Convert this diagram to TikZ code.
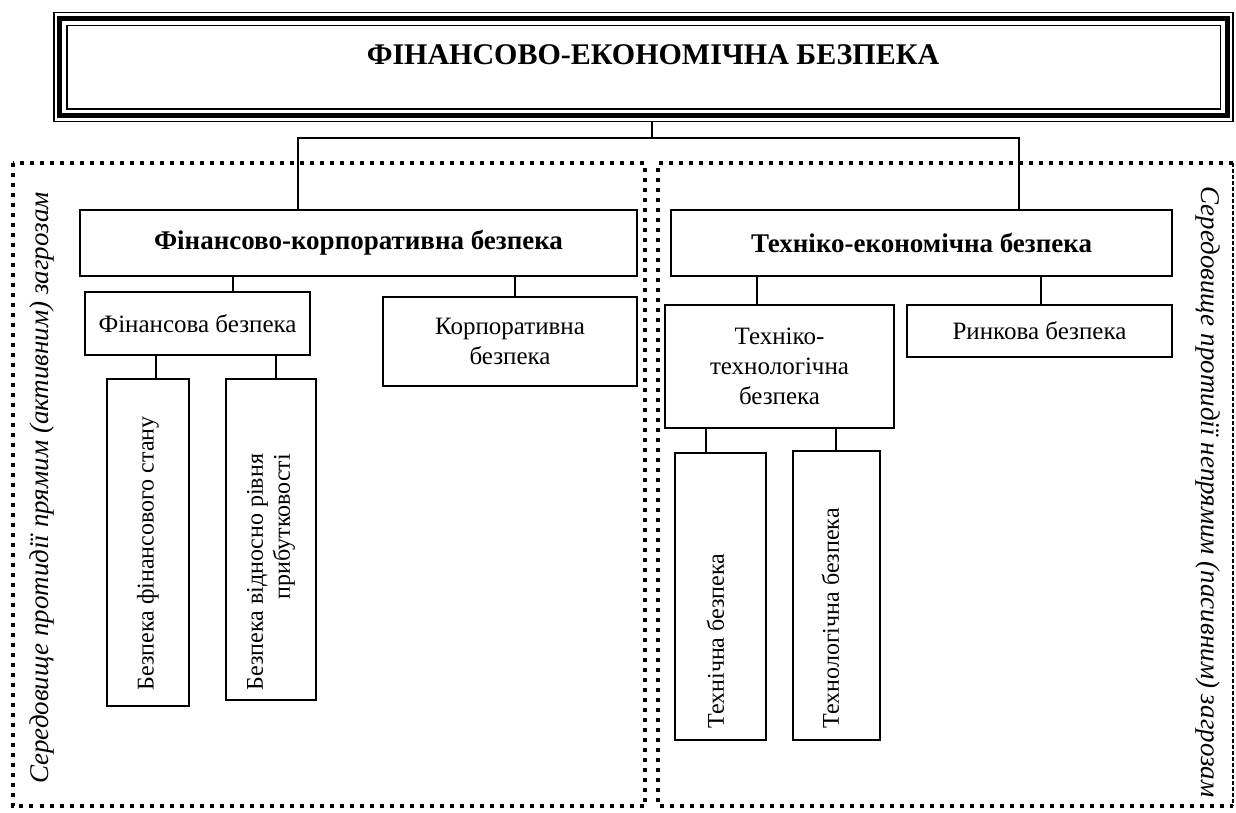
\documentclass[tikz,border=0pt]{standalone}
\usepackage{fontspec}
\setmainfont{Liberation Serif}
\usetikzlibrary{calc}
\begin{document}
\begin{tikzpicture}[x=1pt,y=-1pt,
  box/.style={draw, line width=1.5pt, inner sep=0pt, align=center, font=\fontsize{25}{30}\selectfont},
  boldbox/.style={box, font=\fontsize{27}{31}\bfseries\selectfont},
  vtext/.style={rotate=90, anchor=west, inner sep=0pt, align=right, font=\fontsize{24}{27}\selectfont},
  sidetext/.style={inner sep=0pt, font=\fontsize{27}{32}\itshape\selectfont},
  dotline/.style={line width=4pt, dash pattern=on 4pt off 6pt, line cap=butt},
  dashline/.style={line width=1.6pt, dash pattern=on 3.5pt off 2.5pt},
  conn/.style={line width=1.5pt}]
\useasboundingbox (0,0) rectangle (1236,812);
% top box
\node[draw, line width=1.5pt, minimum width=1179pt, minimum height=109pt, inner sep=0pt] (top) at (643.5,67) {};
\draw[line width=5pt] ($(top.north west)+(6.5,6.5)$) rectangle ($(top.south east)+(-6.5,-6.5)$);
\draw[line width=1.5pt] ($(top.north west)+(13.5,13.5)$) rectangle ($(top.south east)+(-13.5,-13.5)$);
\node[font=\fontsize{30}{34}\bfseries\selectfont, inner sep=0pt] (title) at (653,55) {ФІНАНСОВО-ЕКОНОМІЧНА БЕЗПЕКА};
% dotted areas
\draw[dotline] (12.5,163) rectangle (645,806);
\draw[dotline] (1233,163) -- (658,163) -- (658,806) -- (1233,806);
\draw[dashline] (1233,163) -- (1233,806);
\node[sidetext, rotate=90] (lside) at (42,488) {Середовище протидії прямим (активним) загрозам};
\node[sidetext, rotate=-90] (rside) at (1208,492) {Середовище протидії непрямим (пасивним) загрозам};
% level 2
\node[boldbox, minimum width=557pt, minimum height=66pt] (fk) at (358.5,243) {Фінансово-корпоративна безпека};
\node[boldbox, minimum width=501pt, minimum height=66pt] (te) at (921.5,243) {Техніко-економічна безпека};
% level 3
\node[box, minimum width=225pt, minimum height=63pt] (fin) at (197.5,323.5) {Фінансова безпека};
\node[box, minimum width=254pt, minimum height=89pt] (corp) at (510,341.5) {Корпоративна\\безпека};
\node[box, minimum width=229pt, minimum height=123pt] (tt) at (779.5,366.5) {Техніко-\\технологічна\\безпека};
\node[box, minimum width=265pt, minimum height=52pt] (rin) at (1039.5,331) {Ринкова безпека};
% level 4 boxes
\node[box, minimum width=82pt, minimum height=327pt] (b1) at (148,542.5) {};
\node[box, minimum width=90pt, minimum height=321pt] (b2) at (271,539.5) {};
\node[box, minimum width=91pt, minimum height=287pt] (t1) at (720.5,596.5) {};
\node[box, minimum width=87pt, minimum height=289pt] (t2) at (836.5,595.5) {};
\node[vtext] (b1t) at ($(b1.south)+(0,-16)$) {Безпека фінансового стану};
\node[vtext] (b2t) at ($(b2.south)+(0,-10)$) {Безпека відносно рівня\\прибутковості};
\node[vtext] (t1t) at ($(t1.south)+(-5,-12)$) {Технічна безпека};
\node[vtext] (t2t) at ($(t2.south)+(-6,-12)$) {Технологічна безпека};
% connectors
\coordinate (j0) at (652,138);
\coordinate (jl) at (298,138);
\coordinate (jr) at (1019,138);
\draw[conn] (top.south -| j0) -- (j0);
\draw[conn] (fk.north -| jl) -- (jl) -- (jr) -- (te.north -| jr);
\coordinate (c1) at (233,0);
\coordinate (c2) at (515,0);
\coordinate (c3) at (757,0);
\coordinate (c4) at (1041,0);
\coordinate (c5) at (156,0);
\coordinate (c6) at (276,0);
\coordinate (c7) at (706,0);
\coordinate (c8) at (836,0);
\draw[conn] (fk.south -| c1) -- (fin.north -| c1);
\draw[conn] (fk.south -| c2) -- (corp.north -| c2);
\draw[conn] (te.south -| c3) -- (tt.north -| c3);
\draw[conn] (te.south -| c4) -- (rin.north -| c4);
\draw[conn] (fin.south -| c5) -- (b1.north -| c5);
\draw[conn] (fin.south -| c6) -- (b2.north -| c6);
\draw[conn] (tt.south -| c7) -- (t1.north -| c7);
\draw[conn] (tt.south -| c8) -- (t2.north -| c8);
\end{tikzpicture}
\end{document}
